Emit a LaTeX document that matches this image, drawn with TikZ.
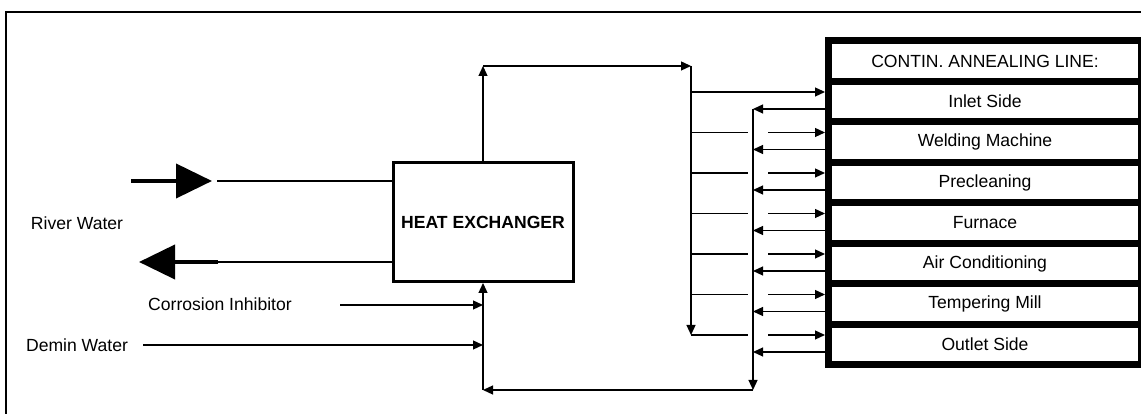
\documentclass[tikz,border=0pt]{standalone}
\usepackage{fontspec}
\setmainfont{Liberation Sans}
\usetikzlibrary{arrows.meta,calc,positioning}
\tikzset{
  hxbox/.style   = {draw, line width=0.85pt, minimum width=18mm, minimum height=11.9mm,
                    inner sep=0pt, font=\bfseries},
  unitbox/.style = {draw, line width=2pt, minimum width=31.3mm, minimum height=4.05mm,
                    inner sep=0pt},
  wire/.style    = {line width=0.35pt},
  flow/.style    = {wire, -{Triangle[length=1mm,width=0.9mm]}},
  bigflow/.style = {line width=1.15pt, -{Triangle[length=3.6mm,width=3.4mm]}},
  frame/.style   = {line width=0.57pt},
}

\begin{document}
\fontsize{5}{6}\selectfont
\begin{tikzpicture}[x=1cm,y=1cm]
  \useasboundingbox (0,0) rectangle (11.41,-4.14);
  \draw[frame] (0.06,-4.14) |- (11.41,-0.12);

  % heat exchanger and river water
  \node[hxbox] (hx) at (4.83,-2.22) {HEAT EXCHANGER};
  \node (river) at (0.77,-2.23) {River Water};
  \node (corr) at (2.20,-3.04) {Corrosion Inhibitor};
  \node (demin) at (0.77,-3.45) {Demin Water};
  \coordinate (rin) at (1.31,-1.81);
  \coordinate (rinend) at (2.12,-1.81);
  \coordinate (rout) at (2.18,-2.62);
  \coordinate (routend) at (1.39,-2.62);
  \draw[bigflow] (rin) -- (rinend);
  \draw[wire] (2.17,-1.81) -- (hx.west |- rin);
  \draw[wire] (hx.west |- rout) -- (rout);
  \draw[bigflow] (rout) -- (routend);

  % annealing line units
  \foreach \name/\txt [count=\i from 0] in {head/{CONTIN. ANNEALING LINE:},
      inlet/Inlet Side, weld/Welding Machine, precl/Precleaning, furn/Furnace,
      aircon/Air Conditioning, temper/Tempering Mill, outlet/Outlet Side}
    \node[unitbox] (\name) at (9.85,{-0.61-0.405*\i}) {\txt};
  \foreach \name in {inlet,weld,precl,furn,aircon,temper,outlet}{
    \coordinate (in\name) at ($(\name.west)+(0,0.095)$);
    \coordinate (out\name) at ($(\name.west)+(0,-0.075)$);
  }

  % supply header
  \coordinate (suptop) at (6.91,-0.66);
  \draw[flow] (hx.north) -- (hx.north |- suptop);
  \draw[flow] (hx.north |- suptop) -- (suptop);
  \draw[flow] (suptop) -- (suptop |- inoutlet);
  \draw[flow] (suptop |- ininlet) -- (ininlet);

  % return header
  \coordinate (retbot) at (7.53,-3.90);
  \draw[flow] (retbot |- outinlet) -- (retbot);
  \draw[flow] (retbot) -- (hx.south |- retbot);
  \draw[flow] (hx.south |- retbot) -- (hx.south);

  \foreach \name in {weld,precl,furn,aircon,temper,outlet}{
    \draw[wire] (suptop |- in\name) -- ($(retbot |- in\name)+(-0.05,0)$);
    \draw[flow] ($(retbot |- in\name)+(0.15,0)$) -- (in\name);
  }
  \foreach \name in {inlet,weld,precl,furn,aircon,temper,outlet}
    \draw[flow] (out\name) -- (retbot |- out\name);

  % make-up feeds
  \coordinate (inh) at (3.40,-3.05);
  \coordinate (dem) at (1.43,-3.45);
  \draw[flow] (inh) -- (hx.south |- inh);
  \draw[flow] (dem) -- (hx.south |- dem);
\end{tikzpicture}
\end{document}
